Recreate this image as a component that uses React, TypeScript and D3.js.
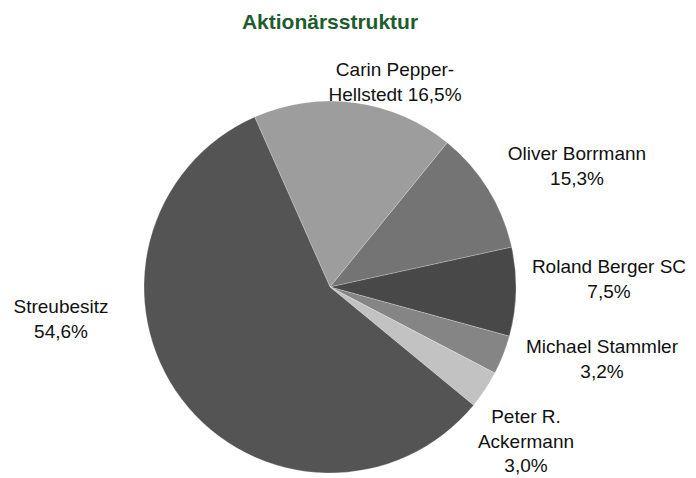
import React from "react";
import * as d3 from "d3";

const names = ["Carin Pepper-Hellstedt", "Oliver Borrmann", "Roland Berger SC", "Michael Stammler", "Peter R. Ackermann", "Streubesitz"];
const sliceValues = [17.5, 10.7, 7.7, 3.4, 3.3, 57.4];
const labelLines = [
  ["Carin Pepper-", "Hellstedt 16,5%"],
  ["Oliver Borrmann", "15,3%"],
  ["Roland Berger SC", "7,5%"],
  ["Michael Stammler", "3,2%"],
  ["Peter R.", "Ackermann", "3,0%"],
  ["Streubesitz", "54,6%"],
];
const colors = ["#9d9d9d", "#747474", "#484848", "#858585", "#c2c2c2", "#545454"];

const W = 696, H = 478;
const cx = 330, cy = 287, R = 186;
const labelPos: [number, number][] = [
  [395, 76], [577, 160], [609, 273], [602, 353], [526, 423], [61, 313],
];
const lineH = 24.5;
const font = "'Liberation Sans', Arial, sans-serif";

export default function App() {
  const pie = d3.pie<number>().sort(null).value(d => d)
    .startAngle(-23.9 * Math.PI / 180).endAngle((360 - 23.9) * Math.PI / 180);
  const arcs = pie(sliceValues);
  const arc = d3.arc<d3.PieArcDatum<number>>().innerRadius(0).outerRadius(R);
  return (
    <svg width={W} height={H} style={{ position: "absolute", left: 0, top: 0 }}>
      <rect width={W} height={H} fill="#fff" />
      <text x={330} y={29} textAnchor="middle" fontFamily={font} fontWeight="bold" fontSize={21} fill="#1e5c2e">Aktionärsstruktur</text>
      <g transform={`translate(${cx},${cy})`}>
        {arcs.map((a, i) => (
          <path key={names[i]} d={arc(a) || ""} fill={colors[i]} stroke="#ffffff" strokeOpacity={0.35} strokeWidth={0.7} />
        ))}
      </g>
      {labelLines.map((lines, i) => (
        <text key={i} textAnchor="middle" fontFamily={font} fontSize={19} fill="#111">
          {lines.map((l, j) => (
            <tspan key={j} x={labelPos[i][0]} y={labelPos[i][1] + j * lineH}>{l}</tspan>
          ))}
        </text>
      ))}
    </svg>
  );
}
